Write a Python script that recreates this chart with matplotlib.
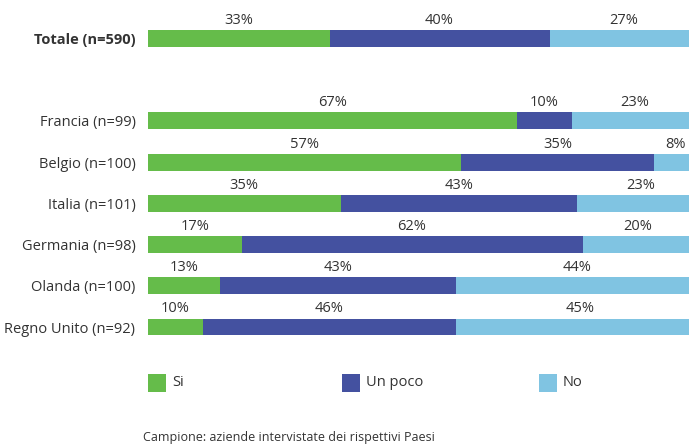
import matplotlib.pyplot as plt
from matplotlib.patches import Rectangle

# categories (top to bottom) and their slot on the y axis
labels = ['Totale (n=590)', 'Francia (n=99)', 'Belgio (n=100)', 'Italia (n=101)',
          'Germania (n=98)', 'Olanda (n=100)', 'Regno Unito (n=92)']
positions = [0, 2, 3, 4, 5, 6, 7]

si = [33, 67, 57, 35, 17, 13, 10]
un_poco = [40, 10, 35, 43, 62, 43, 46]
no = [27, 23, 8, 23, 20, 44, 45]

series = ['Si', 'Un poco', 'No']
colors = ['#65BC4A', '#4451A0', '#80C4E2']
text_color = '#333333'

plt.rcParams['font.family'] = ['Open Sans', 'DejaVu Sans']

fig = plt.figure(figsize=(6.89, 4.44), dpi=100)
ax = fig.add_axes([148 / 689, 0.217, 550 / 689, 0.743])

bar_h = 0.41
left = [0] * len(si)
for vals, col in zip([si, un_poco, no], colors):
    ax.barh(positions, vals, left=left, height=bar_h, color=col, linewidth=0)
    for p, l, v in zip(positions, left, vals):
        ax.annotate(f'{v}%', (l + v / 2, p - bar_h / 2), xytext=(0, 1.5),
                    textcoords='offset points', ha='center', va='bottom',
                    fontsize=10.5, color=text_color)
    left = [a + b for a, b in zip(left, vals)]

ax.set_xlim(0, 100)
ax.set_ylim(7.5, -0.5)
ax.set_yticks(positions)
ax.set_yticklabels(labels, fontsize=10.5, color=text_color)
ax.get_yticklabels()[0].set_fontweight('bold')
ax.tick_params(axis='y', length=0, pad=9)
ax.set_xticks([])
for s in ax.spines.values():
    s.set_visible(False)

# legend
leg_x = [148, 342, 539]
for x, name, col in zip(leg_x, series, colors):
    fig.add_artist(Rectangle((x / 689, 1 - 392 / 444), 18 / 689, 18 / 444,
                             transform=fig.transFigure, color=col, lw=0))
    fig.text((x + 24) / 689, 1 - 383 / 444, name, fontsize=10.5,
             color=text_color, va='center')

fig.text(143 / 689, 1 - 437 / 444, 'Campione: aziende intervistate dei rispettivi Paesi',
         fontsize=9, color=text_color, va='center')

fig.savefig('out.png', dpi=100)
